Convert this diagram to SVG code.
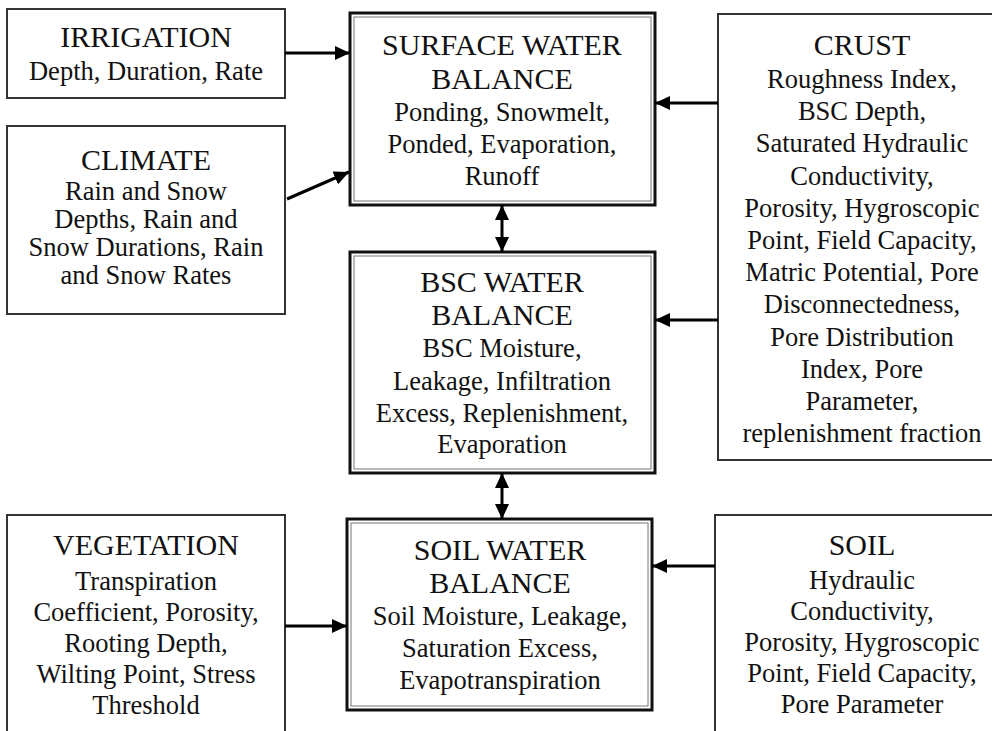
<svg xmlns="http://www.w3.org/2000/svg" width="992" height="731" viewBox="0 0 992 731">
<style>
.box{fill:#fff;stroke:#333;stroke-width:2}
.outer{fill:#fff;stroke:#111;stroke-width:3}
.inner{fill:none;stroke:#777;stroke-width:1}
text{font-family:"Liberation Serif","Times New Roman",serif;fill:#111;text-anchor:middle}
.t{font-size:30px}
.b{font-size:26.5px}
.c{stroke:#000;stroke-width:3;fill:none}
</style>
<defs>
<marker id="ah" markerUnits="userSpaceOnUse" markerWidth="16" markerHeight="14" viewBox="0 0 16 14" refX="15" refY="7" orient="auto-start-reverse">
<path d="M0,0 L15,7 L0,14 Z" fill="#000"/>
</marker>
</defs>
<rect width="992" height="731" fill="#fff"/>

<g id="irrigation">
<rect class="box" x="7" y="9" width="278" height="89"/>
<text class="t" x="146" y="47">IRRIGATION</text>
<text class="b" x="146" y="80">Depth, Duration, Rate</text>
</g>

<g id="climate">
<rect class="box" x="7" y="126" width="278" height="188"/>
<text class="t" x="146" y="170">CLIMATE</text>
<text class="b" x="146" y="200">Rain and Snow</text>
<text class="b" x="146" y="228">Depths, Rain and</text>
<text class="b" x="146" y="256">Snow Durations, Rain</text>
<text class="b" x="146" y="284">and Snow Rates</text>
</g>

<g id="vegetation">
<rect class="box" x="7" y="515" width="278" height="230"/>
<text class="t" x="146" y="555">VEGETATION</text>
<text class="b" x="146" y="590">Transpiration</text>
<text class="b" x="146" y="621">Coefficient, Porosity,</text>
<text class="b" x="146" y="652">Rooting Depth,</text>
<text class="b" x="146" y="683">Wilting Point, Stress</text>
<text class="b" x="146" y="714">Threshold</text>
</g>

<g id="surface">
<rect class="outer" x="350" y="13" width="305" height="192"/>
<rect class="inner" x="354" y="17" width="297" height="184"/>
<text class="t" x="502" y="55">SURFACE WATER</text>
<text class="t" x="502" y="89">BALANCE</text>
<text class="b" x="502" y="121">Ponding, Snowmelt,</text>
<text class="b" x="502" y="153">Ponded, Evaporation,</text>
<text class="b" x="502" y="185">Runoff</text>
</g>

<g id="bsc">
<rect class="outer" x="350" y="252" width="305" height="221"/>
<rect class="inner" x="354" y="256" width="297" height="213"/>
<text class="t" x="502" y="292">BSC WATER</text>
<text class="t" x="502" y="325">BALANCE</text>
<text class="b" x="502" y="357">BSC Moisture,</text>
<text class="b" x="502" y="390">Leakage, Infiltration</text>
<text class="b" x="502" y="422">Excess, Replenishment,</text>
<text class="b" x="502" y="453">Evaporation</text>
</g>

<g id="soilwater">
<rect class="outer" x="347" y="519" width="305" height="191"/>
<rect class="inner" x="351" y="523" width="297" height="183"/>
<text class="t" x="500" y="560">SOIL WATER</text>
<text class="t" x="500" y="593">BALANCE</text>
<text class="b" x="500" y="625">Soil Moisture, Leakage,</text>
<text class="b" x="500" y="657">Saturation Excess,</text>
<text class="b" x="500" y="689">Evapotranspiration</text>
</g>

<g id="crust">
<rect class="box" x="718" y="14" width="290" height="446"/>
<text class="t" x="862" y="55">CRUST</text>
<text class="b" x="862" y="88">Roughness Index,</text>
<text class="b" x="862" y="120">BSC Depth,</text>
<text class="b" x="862" y="152">Saturated Hydraulic</text>
<text class="b" x="862" y="185">Conductivity,</text>
<text class="b" x="862" y="217">Porosity, Hygroscopic</text>
<text class="b" x="862" y="249">Point, Field Capacity,</text>
<text class="b" x="862" y="281">Matric Potential, Pore</text>
<text class="b" x="862" y="313">Disconnectedness,</text>
<text class="b" x="862" y="346">Pore Distribution</text>
<text class="b" x="862" y="378">Index, Pore</text>
<text class="b" x="862" y="410">Parameter,</text>
<text class="b" x="862" y="442">replenishment fraction</text>
</g>

<g id="soil">
<rect class="box" x="715" y="515" width="290" height="230"/>
<text class="t" x="862" y="555">SOIL</text>
<text class="b" x="862" y="589">Hydraulic</text>
<text class="b" x="862" y="620">Conductivity,</text>
<text class="b" x="862" y="651">Porosity, Hygroscopic</text>
<text class="b" x="862" y="682">Point, Field Capacity,</text>
<text class="b" x="862" y="713">Pore Parameter</text>
</g>

<g id="connectors">
<line class="c" x1="285" y1="53" x2="350" y2="53" marker-end="url(#ah)"/>
<line class="c" x1="287" y1="199" x2="349" y2="172" marker-end="url(#ah)"/>
<line class="c" x1="718" y1="103" x2="655" y2="103" marker-end="url(#ah)"/>
<line class="c" x1="502" y1="205" x2="502" y2="252" marker-start="url(#ah)" marker-end="url(#ah)"/>
<line class="c" x1="718" y1="320" x2="655" y2="320" marker-end="url(#ah)"/>
<line class="c" x1="502" y1="473" x2="502" y2="519" marker-start="url(#ah)" marker-end="url(#ah)"/>
<line class="c" x1="285" y1="626" x2="347" y2="626" marker-end="url(#ah)"/>
<line class="c" x1="715" y1="566" x2="652" y2="566" marker-end="url(#ah)"/>
</g>
</svg>
